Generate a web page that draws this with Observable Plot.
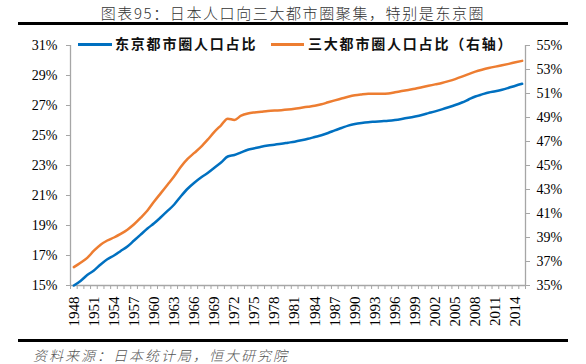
<!DOCTYPE html>
<html>
<head>
<meta charset="utf-8">
<script src="https://cdn.jsdelivr.net/npm/d3@7"></script>
<script src="https://cdn.jsdelivr.net/npm/@observablehq/plot@0.6"></script>
<style>
  html, body { margin: 0; padding: 0; background: #fff; }
  #wrap { position: relative; width: 586px; height: 364px; overflow: hidden; }
  .abs { position: absolute; }
  #title { top: 3px; left: 0; width: 586px; text-align: center; font-family: "Noto Sans CJK SC", sans-serif; font-weight: 300; font-size: 15px; letter-spacing: 1.6px; color: #333; line-height: 20px; }
  .hr { background: #000; left: 18px; width: 550px; }
  #chart { top: 26px; left: 0; }
  .leg { font-family: "Noto Sans CJK SC", sans-serif; font-weight: 700; font-size: 14px; letter-spacing: 1.8px; color: #111; line-height: 18px; top: 34px; white-space: nowrap; }
  .sw { height: 2.5px; top: 43px; }
  #source { top: 346px; left: 33px; font-family: "Noto Sans CJK SC", sans-serif; font-style: italic; font-weight: 300; font-size: 14px; letter-spacing: 2px; color: #555; line-height: 18px; }
</style>
</head>
<body>
<div id="wrap">
  <div id="title" class="abs">图表95：日本人口向三大都市圈聚集，特别是东京圈</div>
  <div class="abs hr" style="top:22px;height:2.5px"></div>
  <div id="chart" class="abs"></div>
  <div class="abs sw" style="left:78px;width:34px;background:#0070C0"></div>
  <div class="abs leg" style="left:115px">东京都市圈人口占比</div>
  <div class="abs sw" style="left:271px;width:33px;background:#ED7D31"></div>
  <div class="abs leg" style="left:308px">三大都市圈人口占比（右轴）</div>
  <div class="abs hr" style="top:339px;height:2.5px"></div>
  <div id="source" class="abs">资料来源：日本统计局，恒大研究院</div>
</div>
<script>
// Categories: years 1948–2015
const years = d3.range(1948, 2016);

// 东京都市圈人口占比 (%) — left axis
const tokyo = [
  15.0, 15.3, 15.7, 16.0, 16.4, 16.75, 17.0, 17.3, 17.6, 18.0,
  18.4, 18.8, 19.15, 19.55, 19.97, 20.4, 20.95, 21.45, 21.85, 22.2,
  22.5, 22.85, 23.2, 23.6, 23.7, 23.88, 24.05, 24.15, 24.25, 24.33,
  24.39, 24.45, 24.52, 24.59, 24.68, 24.78, 24.9, 25.02, 25.17, 25.34,
  25.5, 25.66, 25.77, 25.84, 25.89, 25.92, 25.95, 25.98, 26.03, 26.1,
  26.18, 26.27, 26.37, 26.49, 26.61, 26.74, 26.88, 27.03, 27.2, 27.4,
  27.6, 27.74, 27.87, 27.95, 28.05, 28.18, 28.32, 28.45
];

// 三大都市圈人口占比 (%) — right axis
const three = [
  36.53, 36.9, 37.3, 37.9, 38.4, 38.75, 39.0, 39.3, 39.65, 40.1,
  40.65, 41.25, 42.0, 42.7, 43.4, 44.1, 44.9, 45.55, 46.05, 46.55,
  47.15, 47.8, 48.35, 48.9, 48.8, 49.15, 49.33, 49.42, 49.48, 49.54,
  49.58, 49.61, 49.66, 49.73, 49.82, 49.9, 49.98, 50.1, 50.27, 50.43,
  50.58, 50.73, 50.85, 50.92, 50.97, 50.98, 50.97, 51.0, 51.1, 51.2,
  51.3, 51.4, 51.52, 51.64, 51.76, 51.88, 52.03, 52.2, 52.4, 52.62,
  52.82, 52.98, 53.12, 53.24, 53.35, 53.47, 53.6, 53.72
];

// Tick labels
const xTickYears = [1948,1951,1954,1957,1960,1963,1966,1969,1972,1975,1978,1981,1984,1987,1990,1993,1996,1999,2002,2005,2008,2011,2014];
const leftTicks = [15,17,19,21,23,25,27,29,31];
const rightTicks = [35,37,39,41,43,45,47,49,51,53,55];

const data = years.map((y, i) => ({year: y, tokyo: tokyo[i], three: three[i]}));

// map right-axis domain [35,55] onto left-axis domain [15,31]
const toLeft = v => 15 + (v - 35) * 16 / 20;
const fromLeft = v => (v - 15) * 20 / 16 + 35;

const axisGray = "#a6a6a6";
const boundaries = d3.range(years.length + 1).map(i => years[0] - 0.5 + i);

const chart = Plot.plot({
  width: 586,
  height: 312,
  marginTop: 19,
  marginBottom: 53,
  marginLeft: 70,
  marginRight: 61,
  x: {type: "linear", domain: [years[0] - 0.5, years[years.length - 1] + 0.5]},
  y: {domain: [15, 31]},
  style: {fontFamily: "'Liberation Serif', 'Times New Roman', serif", fontSize: "14px", color: "#000", background: "transparent"},
  marks: [
    Plot.axisY({ticks: leftTicks, tickFormat: d => d + "%", tickSize: 4, tickPadding: 9, stroke: axisGray, fill: "#000", label: null, fontSize: 14}),
    Plot.axisY({anchor: "right", ticks: rightTicks.map(toLeft), tickFormat: d => Math.round(fromLeft(d)) + "%", tickSize: 4, tickPadding: 7, stroke: axisGray, fill: "#000", label: null, fontSize: 14}),
    Plot.axisX({ticks: boundaries, tickSize: 4, tickFormat: () => "", stroke: axisGray, label: null}),
    Plot.axisX({ticks: xTickYears, tickSize: 0, tickPadding: 11, tickRotate: -90, tickFormat: d => String(d), fill: "#000", label: null, fontSize: 15}),
    Plot.ruleX([years[0] - 0.5, years[years.length - 1] + 0.5], {stroke: axisGray, strokeWidth: 1.3}),
    Plot.ruleY([15], {stroke: axisGray, strokeWidth: 1.3}),
    Plot.lineY(data, {x: "year", y: d => toLeft(d.three), stroke: "#ED7D31", strokeWidth: 2.5, curve: "monotone-x"}),
    Plot.lineY(data, {x: "year", y: "tokyo", stroke: "#0070C0", strokeWidth: 2.5, curve: "monotone-x"})
  ]
});
document.getElementById("chart").appendChild(chart);
</script>
</body>
</html>
